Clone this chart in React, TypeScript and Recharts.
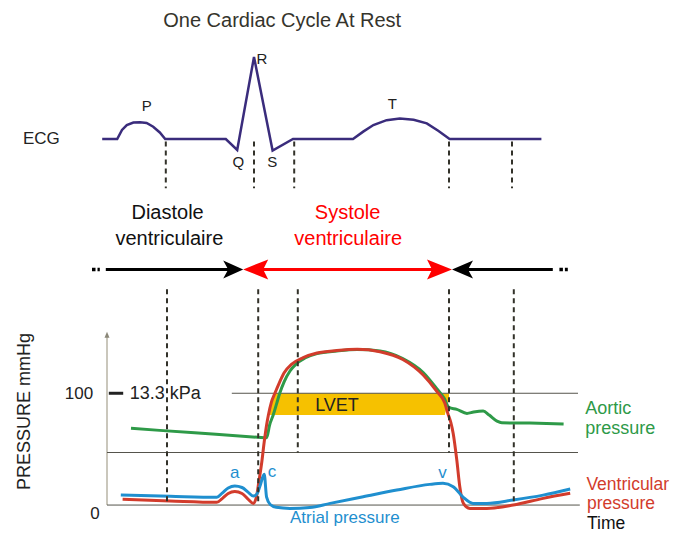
import React from 'react';
import {
  ComposedChart,
  Line,
  Area,
  XAxis,
  YAxis,
  ReferenceLine,
  ReferenceDot,
} from 'recharts';

// time in ms, ECG in mV, pressures in mmHg
const ecgTime = [-8, 17, 25, 33, 44, 55, 66, 77, 88, 97, 198, 217, 245, 276, 310, 410, 427, 444, 466, 488, 511, 533, 552, 571, 724];
const ecgMv = [0, 0, 0.11, 0.17, 0.2, 0.205, 0.195, 0.15, 0.08, 0, 0, -0.134, 1.0, -0.14, 0, 0, 0.09, 0.17, 0.23, 0.25, 0.235, 0.19, 0.1, 0, 0];

const aorticTime = [40, 146, 252, 266, 271, 277, 283, 288, 295, 305, 315, 330, 350, 383, 417, 455, 493, 527, 550, 562, 570, 583, 600, 611, 627, 637, 650, 658, 705, 761];
const aorticMmHg = [68.6, 64.6, 60.6, 60.1, 71.6, 80.5, 91.2, 100.2, 110, 119.9, 126.1, 131.5, 135.5, 137.8, 139.1, 137.8, 131, 118.5, 103.8, 95.4, 87.4, 85.6, 82, 83.2, 84.1, 80.5, 75.1, 73.6, 73.3, 72.5];

const ventTime = [26, 105, 183, 192, 202, 213, 225, 235, 244, 249, 253, 258, 262, 266, 269, 274, 280, 287, 295, 308, 327, 350, 383, 417, 455, 493, 527, 550, 563, 568, 573, 577, 583, 588, 594, 605, 633, 677, 727, 772];
const ventMmHg = [5.1, 3.6, 2.4, 5.8, 10.3, 12.1, 10.3, 5.4, 1.5, 7.2, 20.6, 38.5, 56.4, 71.6, 80.5, 92.1, 100.2, 109.1, 118.1, 126.1, 131.9, 136, 138.2, 139.3, 137.1, 130.2, 116.3, 101.4, 91.2, 82, 74, 64.1, 40.3, 16.4, 1.5, -3, -3, 0, 6, 10.5];

const atrialTime = [23, 105, 183, 192, 202, 213, 225, 235, 244, 250, 255, 262, 266, 272, 282, 305, 338, 372, 427, 483, 538, 560, 577, 593, 610, 633, 677, 727, 772];
const atrialMmHg = [8.9, 7.8, 6.9, 10.7, 15.2, 17, 15.7, 11.6, 8, 10, 17, 27.5, 7, 0.5, -2, -3, -2.2, 1.5, 7.4, 13.4, 18.5, 19.4, 16.4, 7.4, 1.5, 1.5, 4.5, 8.9, 14.3];

// LVET band (ejection time, between 80 and 100 mmHg)
const lvetTime = [269, 274, 280, 563, 570];
const lvetLow = [80.5, 80.5, 80.5, 80.5, 97];
const lvetHigh = [80.5, 92, 100, 100, 100];

// event markers
const ecgMarks = [98, 245, 312, 570, 675];
const pressureMarks = [100, 252, 318, 570, 678];
const pressureMarkEnds = [0, 0, 47, 47, 0];
const midLine = 47;

const toRows = (ts: number[], vs: any[]) => ts.map((t, i) => ({ t, v: vs[i] }));
const ecgData = toRows(ecgTime, ecgMv);
const aorticData = toRows(aorticTime, aorticMmHg);
const ventData = toRows(ventTime, ventMmHg);
const atrialData = toRows(atrialTime, atrialMmHg);
const lvetData = lvetTime.map((t, i) => ({ t, band: [lvetLow[i], lvetHigh[i]] }));

const FONT = '"Liberation Sans", Arial, sans-serif';
const GREEN = '#2e9a48';
const RED = '#d23c2c';
const BLUE = '#1f8fcf';
const NAVY = '#3a2c7c';
const DASH = '#33322a';

// ECG axis is placed so that 0 mV sits at the ECG baseline
const ECG_TOP = 137 / 82;
const ECG_BOTTOM = ECG_TOP - 531 / 82;

const note = (
  key: string,
  t: number,
  v: number,
  axis: string,
  text: string,
  color = '#222',
  size = 18,
  anchor = 'start',
  rotate = 0
) => (
  <ReferenceDot
    key={key}
    x={t}
    y={v}
    yAxisId={axis}
    r={0}
    ifOverflow="visible"
    shape={(p: any) => (
      <text
        x={p.cx}
        y={p.cy}
        fill={color}
        fontSize={size}
        fontFamily={FONT}
        textAnchor={anchor}
        transform={rotate ? `rotate(${rotate}, ${p.cx}, ${p.cy})` : undefined}
      >
        {text}
      </text>
    )}
  />
);

const arrowHead = (key: string, t: number, v: number, dir: number, len: number, half: number, color: string) => (
  <ReferenceDot
    key={key}
    x={t}
    y={v}
    yAxisId="ecg"
    r={0}
    ifOverflow="visible"
    shape={(p: any) => (
      <path
        d={`M${p.cx},${p.cy} L${p.cx - dir * len},${p.cy - half} L${p.cx - dir * (len - 5)},${p.cy} L${p.cx - dir * len},${p.cy + half} Z`}
        fill={color}
      />
    )}
  />
);

const seg = (key: string, axis: string, t1: number, v1: number, t2: number, v2: number, stroke: string, width = 1, dash?: string) => (
  <ReferenceLine
    key={key}
    yAxisId={axis}
    segment={[{ x: t1, y: v1 }, { x: t2, y: v2 }]}
    stroke={stroke}
    strokeWidth={width}
    strokeDasharray={dash}
    ifOverflow="visible"
  />
);

const ARROW_Y = -1.59;

export default function App() {
  return (
    <div style={{ position: 'absolute', left: 0, top: 0, width: 675, height: 534, background: '#fff' }}>
      <ComposedChart width={675} height={534} margin={{ top: 2, right: 28, bottom: 1, left: 17 }}>
        <XAxis type="number" dataKey="t" domain={[-150, 900]} hide allowDataOverflow />
        <YAxis yAxisId="p" type="number" domain={[-25, 450]} hide allowDataOverflow />
        <YAxis yAxisId="ecg" type="number" domain={[ECG_BOTTOM, ECG_TOP]} hide allowDataOverflow />

        {/* LVET band */}
        <Area
          yAxisId="p"
          data={lvetData}
          dataKey="band"
          type="linear"
          stroke="none"
          fill="#f6c100"
          fillOpacity={1}
          isAnimationActive={false}
        />

        {/* pressure frame */}
        {seg('axis', 'p', 0, 0, 0, 153, '#b8b4a6', 1.5)}
        <ReferenceDot
          x={0}
          y={155}
          yAxisId="p"
          r={0}
          ifOverflow="visible"
          shape={(p: any) => <path d={`M${p.cx},${p.cy} L${p.cx - 2.5},${p.cy + 6} L${p.cx + 2.5},${p.cy + 6} Z`} fill="#8a8778" />}
        />
        {seg('zero', 'p', 0, 0, 788, 0, '#55544c', 1)}
        {seg('mid', 'p', 0, midLine, 785, midLine, '#55544c', 1)}
        {seg('hundred', 'p', 208, 100, 785, 100, '#55544c', 1)}
        {seg('tick100', 'p', 3, 100, 27, 100, '#222', 3)}

        {/* ECG */}
        <Line
          yAxisId="ecg"
          data={ecgData}
          dataKey="v"
          type="linear"
          stroke={NAVY}
          strokeWidth={2.5}
          dot={false}
          activeDot={false}
          isAnimationActive={false}
        />

        {/* pressures */}
        <Line
          yAxisId="p"
          data={aorticData}
          dataKey="v"
          type="monotone"
          stroke={GREEN}
          strokeWidth={3}
          dot={false}
          activeDot={false}
          isAnimationActive={false}
        />
        <Line
          yAxisId="p"
          data={ventData}
          dataKey="v"
          type="monotone"
          stroke={RED}
          strokeWidth={3}
          dot={false}
          activeDot={false}
          isAnimationActive={false}
        />
        <Line
          yAxisId="p"
          data={atrialData}
          dataKey="v"
          type="monotone"
          stroke={BLUE}
          strokeWidth={3}
          dot={false}
          activeDot={false}
          isAnimationActive={false}
        />

        {/* dashed event markers */}
        {ecgMarks.map((t, i) => seg(`em${i}`, 'ecg', t, -0.03, t, -0.6, DASH, 2, '5 4'))}
        {pressureMarks.map((t, i) => seg(`pm${i}`, 'p', t, 193, t, pressureMarkEnds[i], DASH, 2, '5 4'))}

        {/* diastole / systole arrows */}
        {seg('ldots', 'ecg', -25, ARROW_Y, -12, ARROW_Y, '#000', 3.5, '3.5 2')}
        {seg('larrow', 'ecg', -2, ARROW_Y, 206, ARROW_Y, '#000', 3)}
        {seg('sys', 'ecg', 255, ARROW_Y, 545, ARROW_Y, '#ff0000', 3)}
        {seg('rarrow', 'ecg', 600, ARROW_Y, 743, ARROW_Y, '#000', 3)}
        {seg('rdots', 'ecg', 754, ARROW_Y, 768, ARROW_Y, '#000', 3.5, '3.5 2')}
        {arrowHead('h1', 227, ARROW_Y, 1, 20, 9, '#000')}
        {arrowHead('h2', 227, ARROW_Y, -1, 25, 10, '#ff0000')}
        {arrowHead('h3', 575, ARROW_Y, 1, 25, 10, '#ff0000')}
        {arrowHead('h4', 575, ARROW_Y, -1, 21, 9, '#000')}

        {/* text */}
        {note('title', 292, 1.362, 'ecg', 'One Cardiac Cycle At Rest', '#35342c', 20, 'middle')}
        {note('ecg', -140, -0.061, 'ecg', 'ECG', '#222', 17)}
        {note('P', 58, 0.345, 'ecg', 'P', '#222', 15)}
        {note('R', 249, 0.915, 'ecg', 'R', '#222', 15)}
        {note('Q', 209, -0.338, 'ecg', 'Q', '#222', 15)}
        {note('S', 267, -0.338, 'ecg', 'S', '#222', 15)}
        {note('T', 468, 0.366, 'ecg', 'T', '#222', 15)}
        {note('dia1', 101, -0.979, 'ecg', 'Diastole', '#111', 20, 'middle')}
        {note('dia2', 104, -1.293, 'ecg', 'ventriculaire', '#111', 20, 'middle')}
        {note('sys1', 401, -0.979, 'ecg', 'Systole', '#ff0000', 20, 'middle')}
        {note('sys2', 402, -1.293, 'ecg', 'ventriculaire', '#ff0000', 20, 'middle')}

        {note('ylab', -128, 83.6, 'p', 'PRESSURE mmHg', '#222', 18, 'middle', -90)}
        {note('y100', -23, 94.5, 'p', '100', '#222', 17, 'end')}
        {note('y0', -12, -12.5, 'p', '0', '#222', 17, 'end')}
        {note('kpa', 38, 94.5, 'p', '13.3 kPa', '#222', 18)}
        {note('lvet', 347, 84.4, 'p', 'LVET', '#222', 18)}
        {note('a', 205, 24.4, 'p', 'a', BLUE, 17)}
        {note('c', 268, 25, 'p', 'c', BLUE, 17)}
        {note('v', 552, 24.2, 'p', 'v', BLUE, 17)}
        {note('atrial', 305, -16.1, 'p', 'Atrial pressure', BLUE, 17)}
        {note('aortic1', 797, 81.4, 'p', 'Aortic', GREEN, 18)}
        {note('aortic2', 797, 63.5, 'p', 'pressure', GREEN, 18)}
        {note('vent1', 799, 13.4, 'p', 'Ventricular', RED, 17.5)}
        {note('vent2', 800, -3.6, 'p', 'pressure', RED, 17.5)}
        {note('time', 800, -21.2, 'p', 'Time', '#111', 17.5)}
      </ComposedChart>
    </div>
  );
}
